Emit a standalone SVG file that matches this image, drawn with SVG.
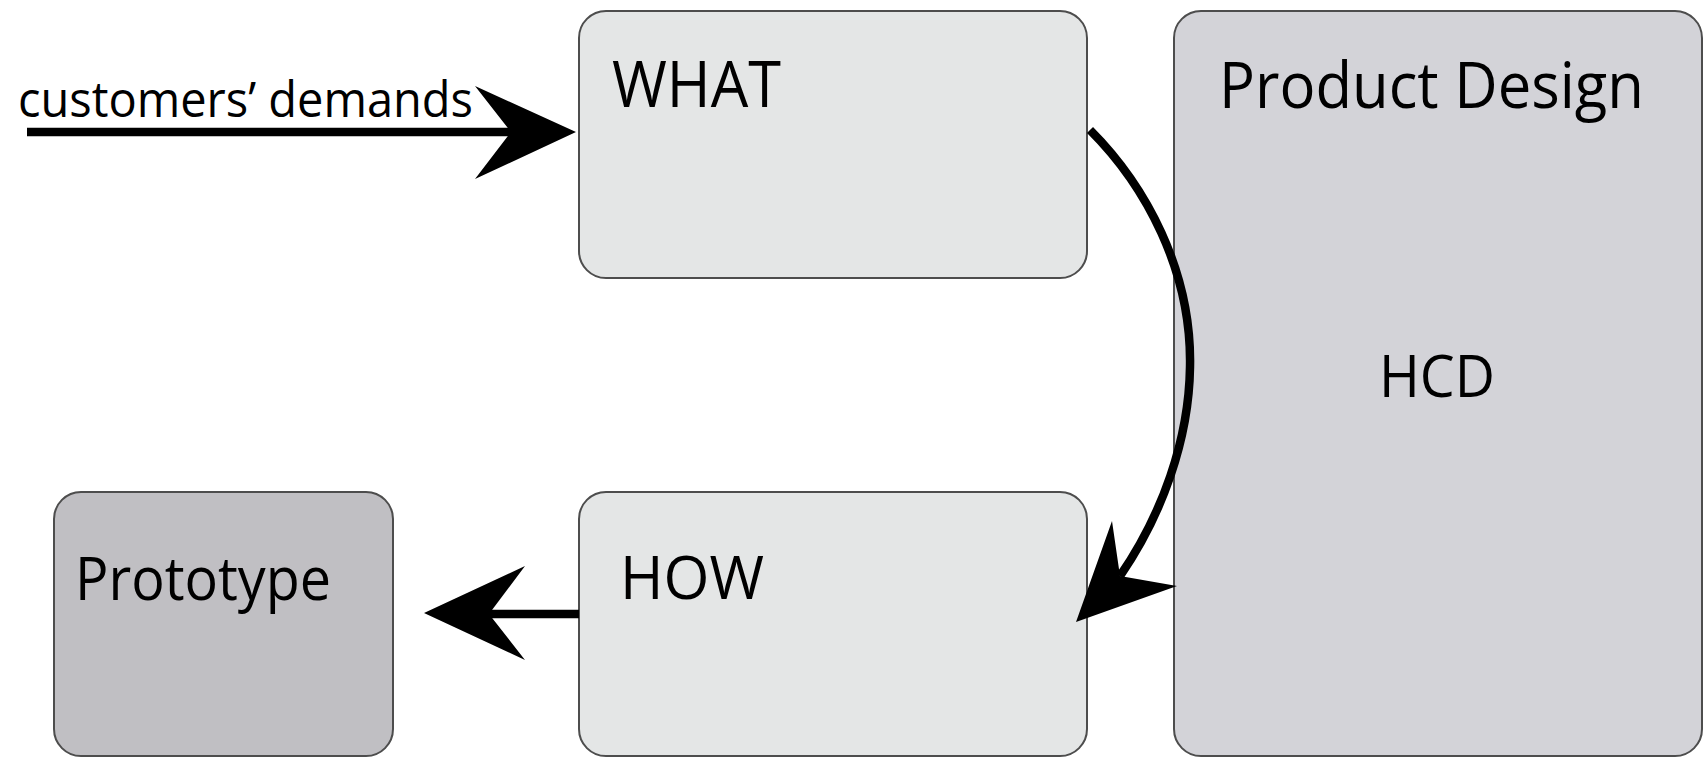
<svg xmlns="http://www.w3.org/2000/svg" width="1704" height="758" viewBox="0 0 1704 758">
<style>
.box{stroke:#4d4d4d;stroke-width:2}
.light{fill:#e4e6e6}
.pd{fill:#d3d3d8}
.proto{fill:#c0bfc3}
.t{font-family:"Open Sans","Liberation Sans",sans-serif;fill:#000}
.ln{fill:none;stroke:#000}
</style>
<rect width="1704" height="758" fill="#fff"/>
<g id="what"><rect class="box light" x="579" y="11" width="508" height="267" rx="27"/>
<text class="t" x="612" y="107" font-size="64" textLength="169" lengthAdjust="spacingAndGlyphs">WHAT</text></g>
<g id="how"><rect class="box light" x="579" y="492" width="508" height="264" rx="27"/>
<text class="t" x="620" y="599" font-size="61" textLength="144" lengthAdjust="spacingAndGlyphs">HOW</text></g>
<g id="prototype"><rect class="box proto" x="54" y="492" width="339" height="264" rx="27"/>
<text class="t" x="75" y="600" font-size="60" textLength="256" lengthAdjust="spacingAndGlyphs">Prototype</text></g>
<g id="product-design"><rect class="box pd" x="1174" y="11" width="528" height="745" rx="27"/>
<text class="t" x="1219" y="108" font-size="64" textLength="425" lengthAdjust="spacingAndGlyphs">Product Design</text>
<text class="t" x="1379" y="397" font-size="58" textLength="116" lengthAdjust="spacingAndGlyphs">HCD</text></g>
<g id="connectors">
<line class="ln" x1="27" y1="132" x2="512" y2="132" stroke-width="8.5"/>
<polygon points="576,132 475,86 511,132 475,179"/>
<text class="t" x="18" y="117" font-size="49" textLength="455" lengthAdjust="spacingAndGlyphs">customers’ demands</text>
<path class="ln" d="M1090,130 C1145,185 1192,270 1190,367 C1189,440 1162,515 1120,576" stroke-width="8.5"/>
<polygon points="1076,622 1112,521 1120,576 1177,586"/>
<line class="ln" x1="579" y1="614" x2="488" y2="614" stroke-width="8.5"/>
<polygon points="424,613 525,566 489,614 525,660"/>
</g>
</svg>
